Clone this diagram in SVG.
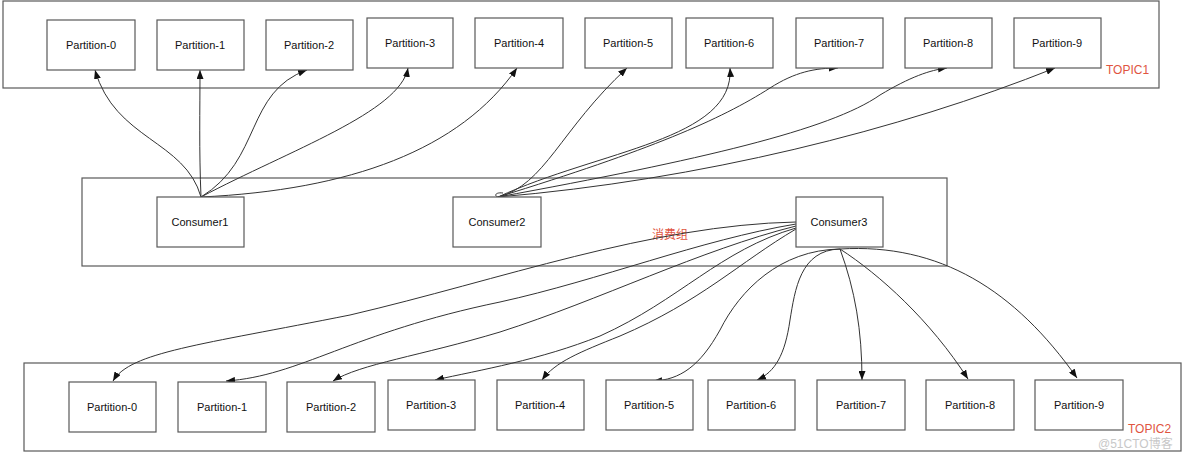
<svg xmlns="http://www.w3.org/2000/svg" width="1184" height="452" viewBox="0 0 1184 452">
<style>
.bg{fill:#fff}
.ct{fill:none;stroke:#595959;stroke-width:1.2}
.bx{fill:#fff;stroke:#595959;stroke-width:1.2}
.t{font-family:"Liberation Sans",Arial,sans-serif;font-size:11px;fill:#111;text-anchor:middle}
.lb{font-family:"Liberation Sans","Noto Sans CJK SC",sans-serif;font-size:12px;fill:#e0553f}
.wm{font-family:"Liberation Sans","Noto Sans CJK SC",sans-serif;font-size:12px;fill:#c8c8c8}
.c{fill:none;stroke:#333;stroke-width:1;marker-end:url(#ah)}
</style>
<defs>
<marker id="ah" markerWidth="9" markerHeight="7" refX="9" refY="3.5" orient="auto" markerUnits="userSpaceOnUse"><path d="M0,0 L9,3.5 L0,7 z" fill="#111"/></marker>
</defs>
<rect class="bg" x="0" y="0" width="1184" height="452"/>
<g id="containers">
<rect id="topic1-box" class="ct" x="3" y="1" width="1156" height="87"/>
<rect id="group-box" class="ct" x="82" y="178" width="865" height="88"/>
<rect id="topic2-box" class="ct" x="24" y="363" width="1157" height="88"/>
<text class="lb" x="1106" y="74">TOPIC1</text>
<text class="lb" x="652" y="239">消费组</text>
<text class="lb" x="1128" y="433">TOPIC2</text>
<text class="wm" x="1098" y="448">@51CTO博客</text>
</g>
<g id="connectors">
<path class="c" d="M201,197 C185,140 115,140 95,70"/>
<path class="c" d="M201,197 C199,150 200,110 200,70"/>
<path class="c" d="M201,197 C262,160 245,92 307,70"/>
<path class="c" d="M201,197 C290,150 400,112 408,68"/>
<path class="c" d="M201,197 C350,190 460,150 517,68"/>
<path class="c" d="M498,197 C545,185 560,130 627,68"/>
<path class="c" d="M498,197 C600,150 735,140 730,68"/>
<path class="c" d="M498,197 C650,150 720,120 770,88 C795,72 815,68 838,68"/>
<path class="c" d="M498,197 C700,160 830,130 880,95 C910,77 930,70 947,68"/>
<path class="c" d="M498,197 C700,180 900,130 1055,68"/>
<path d="M498,197 c-4,-1 -3,-5 5,-4" fill="none" stroke="#333" stroke-width="1"/>
<path class="c" d="M796,222 C650,225 500,280 350,315 C200,345 130,352 113,381"/>
<path class="c" d="M796,224 C700,240 600,280 500,302 C350,333 300,376 226,381"/>
<path class="c" d="M796,226 C700,250 600,300 500,332 C420,356 360,364 333,381"/>
<path class="c" d="M796,228 C720,250 680,300 600,336 C540,360 480,370 435,380"/>
<path class="c" d="M796,229 C740,262 700,302 620,336 C580,352 555,362 542,380"/>
<path class="c" d="M840,249 C780,250 740,290 720,330 C700,366 680,380 653,381"/>
<path class="c" d="M840,249 C800,250 795,290 790,320 C785,355 775,372 757,380"/>
<path class="c" d="M840,249 C855,290 862,330 862,380"/>
<path class="c" d="M840,249 C880,275 930,320 968,379"/>
<path class="c" d="M840,249 C940,243 1015,290 1077,378"/>
</g>
<g id="t1-p0"><rect class="bx" x="47" y="20" width="88" height="50"/><text class="t" x="91" y="49">Partition-0</text></g>
<g id="t1-p1"><rect class="bx" x="157" y="20" width="87" height="50"/><text class="t" x="200" y="49">Partition-1</text></g>
<g id="t1-p2"><rect class="bx" x="266" y="20" width="87" height="50"/><text class="t" x="309" y="49">Partition-2</text></g>
<g id="t1-p3"><rect class="bx" x="367" y="18" width="86" height="50"/><text class="t" x="410" y="47">Partition-3</text></g>
<g id="t1-p4"><rect class="bx" x="475" y="18" width="88" height="50"/><text class="t" x="519" y="47">Partition-4</text></g>
<g id="t1-p5"><rect class="bx" x="585" y="18" width="87" height="50"/><text class="t" x="628" y="47">Partition-5</text></g>
<g id="t1-p6"><rect class="bx" x="686" y="18" width="87" height="50"/><text class="t" x="729" y="47">Partition-6</text></g>
<g id="t1-p7"><rect class="bx" x="796" y="18" width="87" height="50"/><text class="t" x="839" y="47">Partition-7</text></g>
<g id="t1-p8"><rect class="bx" x="905" y="18" width="87" height="50"/><text class="t" x="948" y="47">Partition-8</text></g>
<g id="t1-p9"><rect class="bx" x="1014" y="18" width="87" height="50"/><text class="t" x="1057" y="47">Partition-9</text></g>
<g id="consumer1"><rect class="bx" x="157" y="197" width="87" height="50"/><text class="t" x="200" y="226">Consumer1</text></g>
<g id="consumer2"><rect class="bx" x="453" y="197" width="88" height="50"/><text class="t" x="497" y="226">Consumer2</text></g>
<g id="consumer3"><rect class="bx" x="796" y="197" width="87" height="50"/><text class="t" x="839" y="226">Consumer3</text></g>
<g id="t2-p0"><rect class="bx" x="69" y="382" width="87" height="50"/><text class="t" x="112" y="411">Partition-0</text></g>
<g id="t2-p1"><rect class="bx" x="178" y="382" width="88" height="50"/><text class="t" x="222" y="411">Partition-1</text></g>
<g id="t2-p2"><rect class="bx" x="287" y="382" width="88" height="50"/><text class="t" x="331" y="411">Partition-2</text></g>
<g id="t2-p3"><rect class="bx" x="388" y="380" width="87" height="50"/><text class="t" x="431" y="409">Partition-3</text></g>
<g id="t2-p4"><rect class="bx" x="497" y="380" width="87" height="50"/><text class="t" x="540" y="409">Partition-4</text></g>
<g id="t2-p5"><rect class="bx" x="606" y="380" width="87" height="50"/><text class="t" x="649" y="409">Partition-5</text></g>
<g id="t2-p6"><rect class="bx" x="708" y="380" width="87" height="50"/><text class="t" x="751" y="409">Partition-6</text></g>
<g id="t2-p7"><rect class="bx" x="817" y="380" width="88" height="50"/><text class="t" x="861" y="409">Partition-7</text></g>
<g id="t2-p8"><rect class="bx" x="926" y="380" width="88" height="50"/><text class="t" x="970" y="409">Partition-8</text></g>
<g id="t2-p9"><rect class="bx" x="1035" y="380" width="88" height="50"/><text class="t" x="1079" y="409">Partition-9</text></g>
</svg>
